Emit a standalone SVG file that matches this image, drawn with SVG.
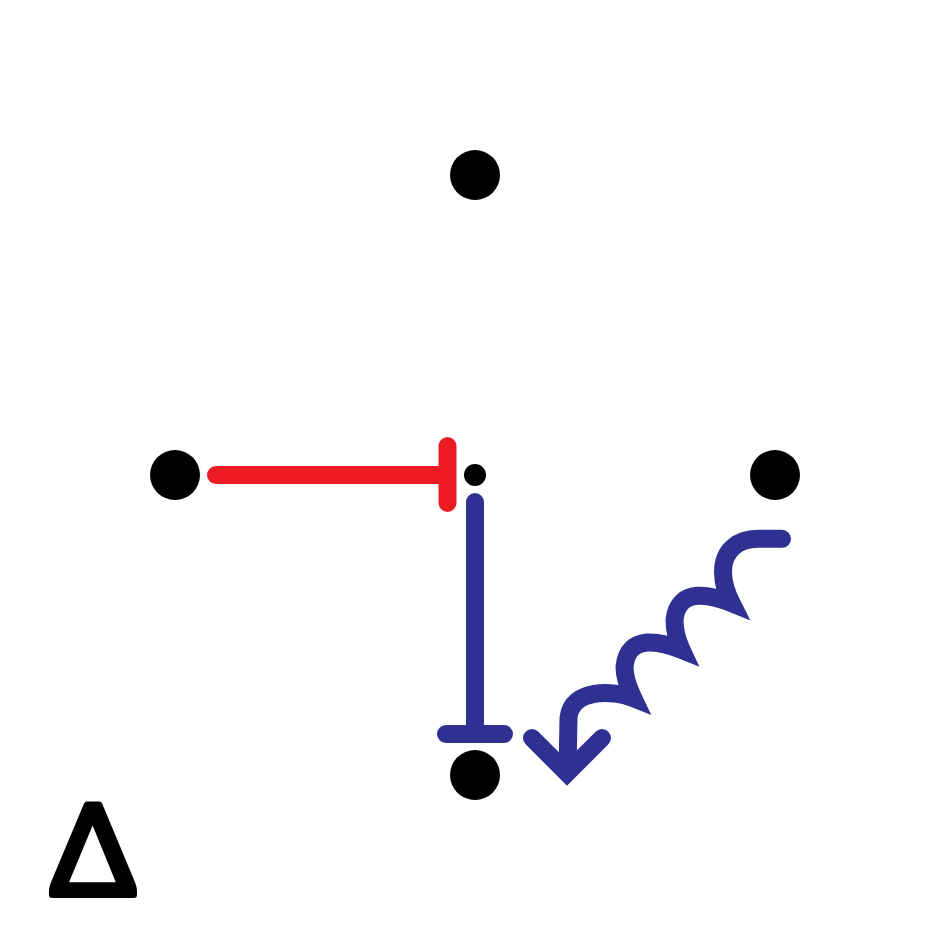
<svg xmlns="http://www.w3.org/2000/svg" width="950" height="950" viewBox="0 0 950 950">
<style>
.node{fill:#000}
.red{fill:none;stroke:#ED1C24;stroke-width:18;stroke-linecap:round}
.blue{fill:none;stroke:#2E3192;stroke-width:18;stroke-linecap:round}
.coil{fill:none;stroke:#2E3192;stroke-width:18;stroke-linecap:round;stroke-linejoin:miter;stroke-miterlimit:10}
.delta{font-family:Lato,"Liberation Sans",sans-serif;font-size:126px;fill:#000;stroke:#000;stroke-width:6;stroke-linejoin:round}
</style>
<rect width="950" height="950" fill="#fff"/>
<g id="node-top"><circle class="node" cx="475" cy="175" r="25"/></g>
<g id="node-left"><circle class="node" cx="175" cy="475" r="25"/></g>
<g id="node-right"><circle class="node" cx="775" cy="475" r="25"/></g>
<g id="node-bottom"><circle class="node" cx="475" cy="775" r="25"/></g>
<g id="node-center"><circle class="node" cx="475" cy="475" r="11"/></g>
<g id="connectors">
  <g id="inhibit-red">
    <line class="red" x1="216" y1="475" x2="447" y2="475"/>
    <line class="red" x1="447.5" y1="446" x2="447.5" y2="503"/>
  </g>
  <g id="inhibit-blue">
    <line class="blue" x1="475" y1="502" x2="475" y2="734"/>
    <line class="blue" x1="446" y1="734" x2="504" y2="734"/>
  </g>
  <g id="coil-arrow">
    <path class="coil" d="M782,538.8 L758,538.8 C738,538.8 723,550 723,572 C723,585 727,594 731.6,603.1 C712,595.2 678,586 674.5,620 C674.5,630 677.5,641 681.6,649.8 C662,641.9 628,632.7 624.5,666.7 C624.5,676.7 628.5,688 633.3,698.1 C613.7,690.2 571,688 568.5,718 L567.5,772"/>
    <polyline class="coil" points="532,738 567,773 602,738"/>
  </g>
</g>
<g id="label-delta"><text class="delta" x="93" y="895.3" text-anchor="middle">Δ</text></g>
</svg>
